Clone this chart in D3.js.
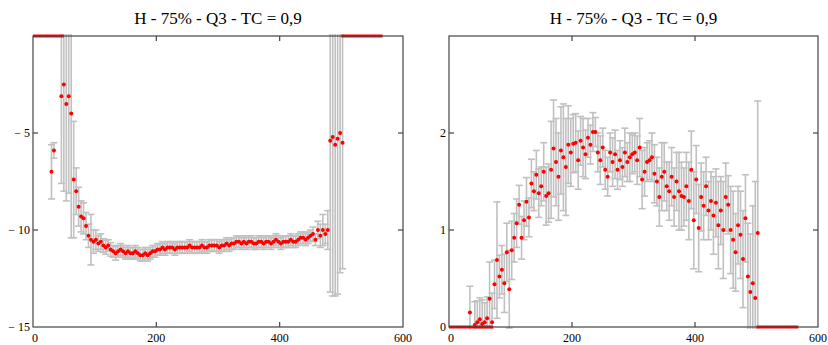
<!DOCTYPE html>
<html>
<head>
<meta charset="utf-8">
<script src="https://cdn.jsdelivr.net/npm/d3@7"></script>
<style>
  html, body { margin: 0; padding: 0; background: #fff; }
  svg { display: block; }
  text { font-family: "Liberation Serif", "Times New Roman", serif; fill: #000; }
</style>
</head>
<body>
<svg id="chart" width="828" height="345"></svg>
<script>
// ---------------- DATA ----------------
const titleText = "H - 75% - Q3 - TC = 0,9";

const xTicks = [0, 200, 400, 600];
const xTickLabels = ["0", "200", "400", "600"];

const leftYTicks = [-15, -10, -5];
const leftYTickLabels = ["\u2212 15", "\u2212 10", "\u2212 5"];
const rightYTicks = [0, 1, 2];
const rightYTickLabels = ["0", "1", "2"];

// sample positions (shared by both panels)
const xs = [30,34,38,42,46,50,54,58,62,66,70,74,78,82,86,90,94,98,102,106,
  110,114,118,122,126,130,134,138,142,146,150,154,158,162,166,170,174,178,182,186,
  190,194,198,202,206,210,214,218,222,226,230,234,238,242,246,250,254,258,262,266,
  270,274,278,282,286,290,294,298,302,306,310,314,318,322,326,330,334,338,342,346,
  350,354,358,362,366,370,374,378,382,386,390,394,398,402,406,410,414,418,422,426,
  430,434,438,442,446,450,454,458,462,466,470,474,478,482,486,490,494,498,502];

// left panel values and error half-widths
const leftValues = [-7.0,-5.9,null,null,-3.1,-2.5,-3.5,-3.1,-4.0,-7.4,-8.0,-8.8,-9.3,-9.4,-9.8,-10.3,-10.5,-10.6,-10.5,-10.7,
  -10.6,-10.8,-10.9,-10.8,-11.0,-11.1,-11.2,-11.1,-11.0,-11.1,-11.2,-11.1,-11.2,-11.2,-11.1,-11.2,-11.3,-11.3,-11.2,-11.3,
  -11.2,-11.1,-11.1,-11.0,-11.0,-10.9,-11.0,-10.9,-10.9,-10.9,-11.0,-10.9,-10.9,-10.9,-10.9,-10.9,-10.8,-10.9,-10.9,-10.9,
  -10.9,-10.8,-10.9,-10.9,-10.8,-10.8,-10.8,-10.8,-10.9,-10.8,-10.8,-10.7,-10.8,-10.7,-10.7,-10.6,-10.6,-10.7,-10.6,-10.7,
  -10.6,-10.6,-10.7,-10.7,-10.6,-10.6,-10.7,-10.6,-10.6,-10.7,-10.6,-10.5,-10.6,-10.7,-10.6,-10.6,-10.6,-10.5,-10.6,-10.6,
  -10.5,-10.4,-10.4,-10.5,-10.4,-10.3,-10.2,-10.5,-10.0,-10.3,-10.0,-10.2,-10.0,-5.4,-5.2,-5.6,-5.3,-5.0,-5.5];
const leftErrors = [1.4,0.4,null,null,4.5,5.5,5.0,5.0,6.4,3.0,1.2,1.0,0.8,0.8,0.7,0.6,1.3,0.6,0.5,0.4,
  0.4,0.35,0.35,0.3,0.35,0.3,0.35,0.3,0.3,0.3,0.3,0.3,0.3,0.3,0.3,0.3,0.3,0.3,0.3,0.3,
  0.3,0.3,0.3,0.3,0.3,0.3,0.3,0.3,0.3,0.3,0.3,0.3,0.3,0.3,0.3,0.3,0.3,0.3,0.3,0.3,
  0.3,0.3,0.3,0.3,0.3,0.3,0.3,0.3,0.3,0.3,0.3,0.3,0.3,0.3,0.3,0.3,0.3,0.3,0.3,0.3,
  0.3,0.3,0.3,0.3,0.3,0.3,0.3,0.3,0.3,0.3,0.3,0.3,0.3,0.3,0.3,0.3,0.3,0.3,0.3,0.3,
  0.3,0.3,0.3,0.3,0.3,0.3,0.35,0.3,0.45,0.6,0.8,0.5,1.0,7.8,8.2,7.8,8.0,7.2,6.5];

// right panel values and error half-widths
const rightValues = [null,0.15,null,0.02,0.05,0.08,0.03,0.05,0.09,0.29,0.05,0.44,0.69,0.52,0.59,0.45,0.77,0.39,0.79,0.92,
  1.07,1.26,0.92,1.10,1.29,1.13,1.48,1.40,1.57,1.38,1.45,1.60,1.35,1.38,1.62,1.84,1.70,1.55,1.82,1.75,
  1.65,1.88,1.80,1.89,1.90,1.72,1.92,1.85,1.78,1.95,1.88,2.01,2.01,1.80,1.72,1.85,1.62,1.55,1.80,1.70,
  1.78,1.62,1.72,1.65,1.80,1.70,1.75,1.78,1.80,1.72,1.85,1.52,1.60,1.70,1.72,1.75,1.58,1.50,1.34,1.55,
  1.60,1.45,1.40,1.55,1.34,1.50,1.40,1.35,1.34,1.45,1.30,1.62,1.10,1.52,1.02,1.34,1.25,1.45,1.20,1.30,
  1.15,1.28,1.05,1.20,1.00,1.34,1.26,1.00,0.90,0.77,1.05,0.95,0.70,1.12,0.52,0.36,0.45,0.30,0.97];
const rightErrors = [null,0.27,null,0.24,0.22,0.22,0.25,0.2,0.22,0.38,0.3,0.25,0.6,0.22,0.25,0.3,0.3,0.4,0.3,0.25,
  0.25,0.2,0.22,0.2,0.25,0.2,0.25,0.2,0.25,0.25,0.2,0.3,0.3,0.3,0.5,0.5,0.45,0.45,0.45,0.55,
  0.5,0.4,0.35,0.3,0.3,0.3,0.25,0.3,0.25,0.2,0.2,0.2,0.15,0.2,0.25,0.2,0.2,0.2,0.2,0.25,
  0.25,0.2,0.2,0.2,0.25,0.2,0.25,0.2,0.2,0.25,0.3,0.3,0.25,0.2,0.2,0.25,0.3,0.25,0.3,0.35,
  0.3,0.25,0.3,0.3,0.3,0.3,0.4,0.35,0.3,0.35,0.4,0.4,0.5,0.35,0.45,0.35,0.35,0.3,0.3,0.3,
  0.4,0.35,0.45,0.35,0.5,0.35,0.3,0.45,0.5,0.4,0.4,0.45,0.5,0.45,0.55,0.6,0.8,1.2,1.36];

// flat runs where the quantity sits at zero (x start, x end)
const zeroRuns = [[0, 50], [500, 567]];
const rightZeroRuns = [[0, 72], [500, 568]];

// ---------------- DRAWING ----------------
const svg = d3.select("#chart");

function panel(opts) {
  const x = d3.scaleLinear().domain([0, 600]).range([opts.left, opts.right]);
  const y = d3.scaleLinear().domain(opts.yDomain).range([327, 36]);
  const g = svg.append("g");
  const clipId = "clip" + opts.id;
  svg.append("clipPath").attr("id", clipId).append("rect")
    .attr("x", opts.left).attr("y", 34).attr("width", opts.right - opts.left).attr("height", 295);

  const data = xs.map((v, i) => ({ x: v, y: opts.values[i], e: opts.errors[i] }))
    .filter(d => d.y !== null);

  const plot = g.append("g").attr("clip-path", `url(#${clipId})`);

  // error bars
  const eb = plot.append("g").attr("stroke", "#c0c0c0").attr("stroke-width", 1.6).attr("fill", "none");
  data.forEach(d => {
    const px = x(d.x), y1 = y(d.y + d.e), y2 = y(d.y - d.e);
    eb.append("line").attr("x1", px).attr("x2", px).attr("y1", y1).attr("y2", y2);
    eb.append("line").attr("x1", px - 3.5).attr("x2", px + 3.5).attr("y1", y1).attr("y2", y1);
    eb.append("line").attr("x1", px - 3.5).attr("x2", px + 3.5).attr("y1", y2).attr("y2", y2);
  });

  // zero runs
  opts.runs.forEach(r => {
    plot.append("line").attr("x1", x(r[0])).attr("x2", x(r[1]))
      .attr("y1", y(0)).attr("y2", y(0))
      .attr("stroke", "#ff0000").attr("stroke-width", 3);
  });

  // points
  plot.append("g").selectAll("circle").data(data).join("circle")
    .attr("cx", d => x(d.x)).attr("cy", d => y(d.y)).attr("r", 2)
    .attr("fill", "#ff0000");

  // frame
  g.append("rect").attr("x", opts.left).attr("y", 36)
    .attr("width", opts.right - opts.left).attr("height", 291)
    .attr("fill", "none").attr("stroke", "#444").attr("stroke-width", 1.2);

  // ticks (inward, all sides)
  const tk = g.append("g").attr("stroke", "#444").attr("stroke-width", 1.2);
  xTicks.slice(1, -1).forEach(t => {
    tk.append("line").attr("x1", x(t)).attr("x2", x(t)).attr("y1", 327).attr("y2", 322);
    tk.append("line").attr("x1", x(t)).attr("x2", x(t)).attr("y1", 36).attr("y2", 41);
  });
  opts.yTicks.forEach(t => {
    const py = y(t);
    if (py > 37 && py < 326) {
      tk.append("line").attr("x1", opts.left).attr("x2", opts.left + 5).attr("y1", py).attr("y2", py);
      tk.append("line").attr("x1", opts.right).attr("x2", opts.right - 5).attr("y1", py).attr("y2", py);
    }
  });

  // tick labels
  xTicks.forEach((t, i) => {
    g.append("text").attr("x", x(t) + (i === 0 ? 2 : 0)).attr("y", 342)
      .attr("text-anchor", "middle").attr("font-size", 12).text(xTickLabels[i]);
  });
  opts.yTicks.forEach((t, i) => {
    g.append("text").attr("x", opts.left - 3).attr("y", y(t) + 4)
      .attr("text-anchor", "end").attr("font-size", 12).text(opts.yLabels[i]);
  });

  // title
  g.append("text").attr("x", (opts.left + opts.right) / 2).attr("y", 24)
    .attr("text-anchor", "middle").attr("font-size", 17).text(titleText);
}

panel({ id: "L", left: 33, right: 403, yDomain: [-15, 0], values: leftValues, errors: leftErrors,
        runs: zeroRuns, yTicks: leftYTicks, yLabels: leftYTickLabels });
panel({ id: "R", left: 449, right: 818, yDomain: [0, 3], values: rightValues, errors: rightErrors,
        runs: rightZeroRuns, yTicks: rightYTicks, yLabels: rightYTickLabels });
</script>
</body>
</html>
